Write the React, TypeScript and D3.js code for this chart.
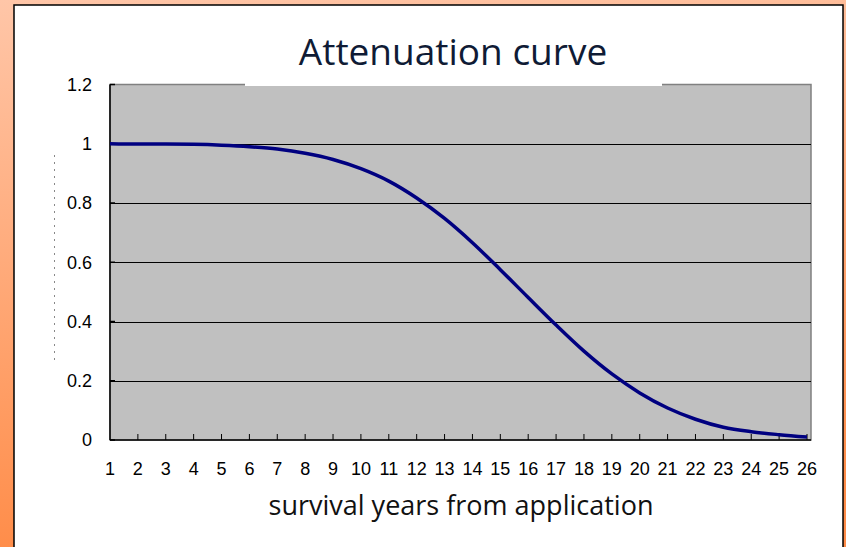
import * as d3 from 'd3';
import React from 'react';

// survival years (category axis) and fraction remaining
const years = [1, 2, 3, 4, 5, 6, 7, 8, 9, 10, 11, 12, 13, 14, 15, 16, 17, 18, 19, 20, 21, 22, 23, 24, 25, 26];
const survival = [1.0, 0.999, 0.999, 0.998, 0.995, 0.99, 0.982, 0.968, 0.947, 0.916, 0.874, 0.817, 0.748, 0.666,
  0.575, 0.481, 0.388, 0.3, 0.223, 0.159, 0.108, 0.07, 0.043, 0.028, 0.018, 0.01];
const yTicks = [0, 0.2, 0.4, 0.6, 0.8, 1, 1.2];
const yTickLabels = ['0', '0.2', '0.4', '0.6', '0.8', '1', '1.2'];

const title = 'Attenuation curve';
const xTitle = 'survival years from application';

const W = 846;
const H = 547;

const App: React.FC = () => {
  const plot = { left: 110, right: 811, top: 84.5, bottom: 440 };

  const x = d3.scaleLinear().domain([1, 26]).range([plot.left, 807]);
  const y = d3.scaleLinear().domain([0, 1.2]).range([plot.bottom, plot.top]);

  const line = d3.line<number>()
    .x((_, i) => x(years[i]))
    .y(d => y(d))
    .curve(d3.curveMonotoneX);

  return (
    <div style={{ position: 'absolute', left: 0, top: 0 }}>
      <svg width={W} height={H} style={{ display: 'block' }}>
        <defs>
          <linearGradient id="bg" x1="0" y1="0" x2="0.15" y2="1">
            <stop offset="0%" stopColor="#ffc6a8" />
            <stop offset="100%" stopColor="#ff8c48" />
          </linearGradient>
        </defs>
        <rect x={0} y={0} width={W} height={H} fill="url(#bg)" />
        <rect x={14} y={5} width={829} height={H} fill="#ffffff" stroke="#000" strokeWidth={1.5} />

        {/* plot area */}
        <rect x={plot.left} y={plot.top} width={plot.right - plot.left} height={plot.bottom - plot.top}
          fill="#c0c0c0" stroke="#808080" strokeWidth={1.5} />

        {/* horizontal gridlines */}
        {yTicks.filter(t => t > 0 && t < 1.2).map(t => (
          <line key={t} x1={plot.left} x2={plot.right} y1={Math.round(y(t)) + 0.5} y2={Math.round(y(t)) + 0.5}
            stroke="#000" strokeWidth={1} />
        ))}

        {/* title background box */}
        <rect x={245} y={22} width={417} height={64} fill="#ffffff" />
        <text x={453} y={65} textAnchor="middle" fontFamily="'Open Sans', sans-serif" fontSize={37}
          fill="#0f1b35">{title}</text>

        {/* axes */}
        <line x1={plot.left} x2={plot.left} y1={plot.top} y2={plot.bottom} stroke="#000" strokeWidth={1.5} />
        <line x1={plot.left} x2={plot.right} y1={plot.bottom} y2={plot.bottom} stroke="#000" strokeWidth={1.5} />
        {yTicks.map(t => (
          <line key={'yt' + t} x1={plot.left} x2={plot.left + 5} y1={y(t)} y2={y(t)} stroke="#000" strokeWidth={1.5} />
        ))}
        {years.slice(1).map(v => (
          <line key={'xt' + v} x1={x(v)} x2={x(v)} y1={plot.bottom} y2={plot.bottom - 6} stroke="#000" strokeWidth={1} />
        ))}

        {/* curve */}
        <path d={line(survival) || ''} fill="none" stroke="#000080" strokeWidth={3.5} />

        {/* tick labels */}
        {yTicks.map((t, i) => (
          <text key={'yl' + t} x={92} y={y(t)} dy="0.36em" textAnchor="end"
            fontFamily="'Liberation Sans', Arial, sans-serif" fontSize={18} fill="#000">{yTickLabels[i]}</text>
        ))}
        {years.map(v => (
          <text key={'xl' + v} x={x(v)} y={475} textAnchor="middle"
            fontFamily="'Liberation Sans', Arial, sans-serif" fontSize={18} fill="#000">{v}</text>
        ))}

        {/* faint y-axis title remnant */}
        <line x1={54.5} x2={54.5} y1={155} y2={365} stroke="#888" strokeWidth={1} strokeDasharray="2,5" />

        <text x={461} y={515} textAnchor="middle" fontFamily="'Open Sans', sans-serif" fontSize={27}
          fill="#111">{xTitle}</text>
      </svg>
    </div>
  );
};

export default App;
